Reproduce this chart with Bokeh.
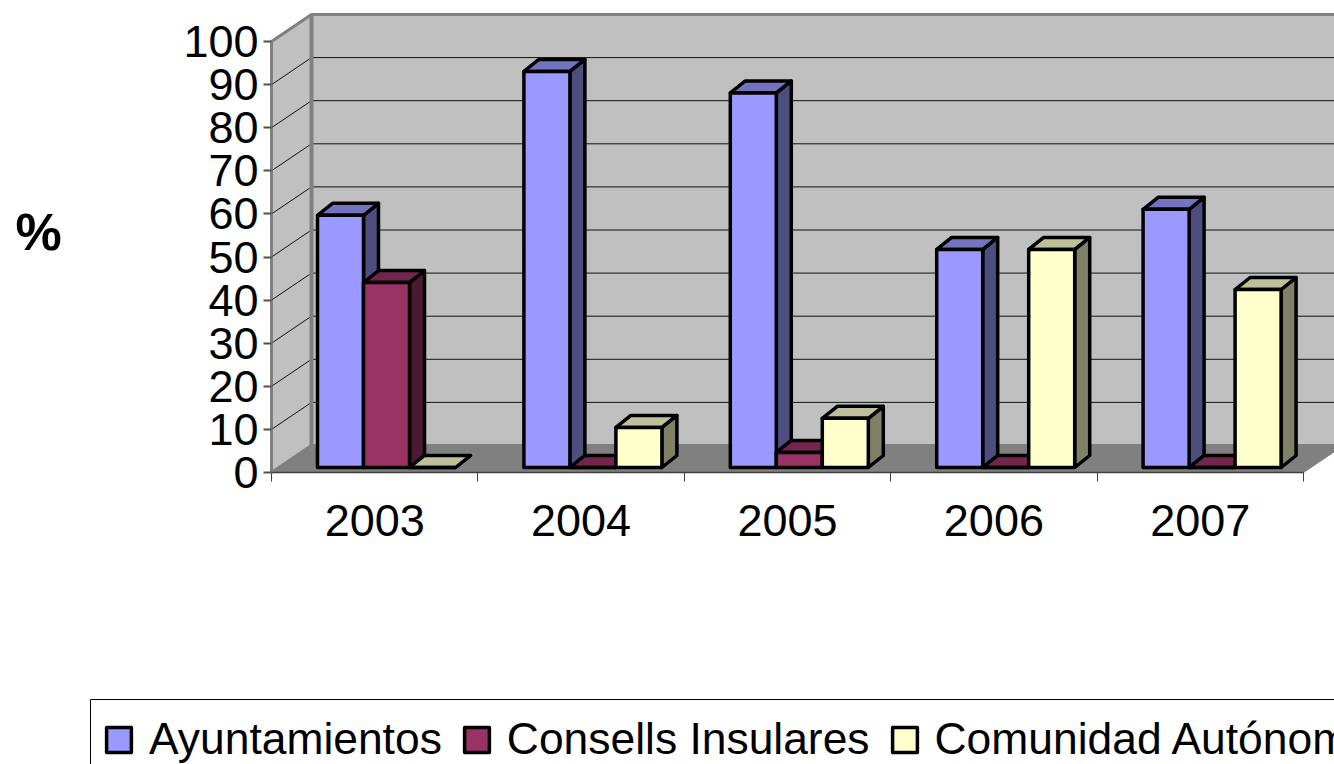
from bokeh.core.properties import value
from bokeh.embed import file_html
from bokeh.resources import INLINE
from bokeh.plotting import figure
from bokeh.models import (ColumnDataSource, FixedTicker, LinearAxis, Range1d,
                          Legend, LegendItem)

# ---- data ----
years = ["2003", "2004", "2005", "2006", "2007"]
ayuntamientos = [58.5, 91.9, 86.9, 50.6, 59.9]
consells = [42.9, 0.0, 3.5, 0.0, 0.0]
comunidad = [0.0, 9.3, 11.4, 50.6, 41.3]
y_ticks = [0, 10, 20, 30, 40, 50, 60, 70, 80, 90, 100]

# ---- style / scale ----
FONT = "Liberation Sans"
PX_X = 206.4       # px per category
PX_Y = 4.31        # px per percent
FIG_W, FIG_H = 1334, 764
LEFT, ZERO_Y = 271, 472   # pixel position of the chart's origin
WALL_DX, WALL_DY = 40 / PX_X, 27 / PX_Y
BAR_DX, BAR_DY = 15 / PX_X, 12 / PX_Y
BAR_W = 46 / PX_X
GROUP_OFFSET = 46 / PX_X
BASE = 5 / PX_Y
X_MIN, X_MAX = -LEFT / PX_X, (FIG_W - LEFT) / PX_X
Y_MIN, Y_MAX = -(FIG_H - ZERO_Y) / PX_Y, ZERO_Y / PX_Y

p = figure(width=FIG_W, height=FIG_H, output_backend="svg", toolbar_location=None,
           x_range=Range1d(X_MIN, X_MAX), y_range=Range1d(Y_MIN, Y_MAX),
           min_border_left=0, min_border_right=0, min_border_top=0, min_border_bottom=0,
           outline_line_color=None, background_fill_color="white", border_fill_color="white")
p.xgrid.visible = False
p.ygrid.visible = False

# ---- walls and floor ----
far = X_MAX + 1
p.patch([WALL_DX, far, far, WALL_DX],
        [WALL_DY, WALL_DY, 100 + WALL_DY, 100 + WALL_DY],
        fill_color="#c0c0c0", line_color="#808080", line_width=3)
p.patch([0, WALL_DX, WALL_DX, 0],
        [0, WALL_DY, 100 + WALL_DY, 100],
        fill_color="#c0c0c0", line_color="#808080", line_width=3)
p.patch([0, WALL_DX, 5 + WALL_DX, 5],
        [0, WALL_DY, WALL_DY, 0],
        fill_color="#808080", line_color="#808080", line_width=1)
grid = [t for t in y_ticks if 0 < t < 100]
p.segment(x0=[WALL_DX] * len(grid), y0=[t + WALL_DY for t in grid],
          x1=[far] * len(grid), y1=[t + WALL_DY for t in grid],
          line_color="#111111", line_width=1)
p.segment(x0=[0] * len(grid), y0=grid,
          x1=[WALL_DX] * len(grid), y1=[t + WALL_DY for t in grid],
          line_color="#111111", line_width=1)
p.line([WALL_DX, WALL_DX], [WALL_DY, 100 + WALL_DY], line_color="#808080", line_width=4)


# ---- 3D bars ----
def series(values, slot, front, top, side, name):
    xs = [i + GROUP_OFFSET + slot * BAR_W for i in range(len(values))]
    tops = [BASE + v for v in values]
    side_x = [[x + BAR_W, x + BAR_W + BAR_DX, x + BAR_W + BAR_DX, x + BAR_W] for x in xs]
    side_y = [[BASE, BASE + BAR_DY, t + BAR_DY, t] for t in tops]
    top_x = [[x, x + BAR_DX, x + BAR_W + BAR_DX, x + BAR_W] for x in xs]
    top_y = [[t, t + BAR_DY, t + BAR_DY, t] for t in tops]
    p.patches(side_x, side_y, fill_color=side, line_color="black", line_width=3.5, line_join="round")
    p.patches(top_x, top_y, fill_color=top, line_color="black", line_width=3.5, line_join="round")
    src = ColumnDataSource(dict(x=[x + BAR_W / 2 for x in xs], top=tops, bottom=[BASE] * len(xs)))
    r = p.vbar(x="x", top="top", bottom="bottom", width=BAR_W, source=src, fill_color=front,
               line_color="black", line_width=3.5, line_join="round")
    return LegendItem(label=name, renderers=[r])


items = [
    series(ayuntamientos, 0, "#9999ff", "#7373bf", "#4d4d80", "Ayuntamientos"),
    series(consells, 1, "#993366", "#73264d", "#4d1a33", "Consells Insulares"),
    series(comunidad, 2, "#ffffcc", "#bfbf99", "#808066", "Comunidad Autónoma"),
]

# ---- axes ----
ya = p.yaxis[0]
ya.fixed_location = 0
ya.ticker = FixedTicker(ticks=y_ticks)
ya.bounds = (0, 100)
ya.axis_line_color = "#808080"
ya.axis_line_width = 2
ya.major_tick_line_color = "#505050"
ya.major_tick_line_width = 2
ya.major_tick_out = 8
ya.major_tick_in = 0
ya.minor_tick_line_color = None
ya.major_label_standoff = 5
ya.major_label_text_font = FONT
ya.major_label_text_font_size = "45px"
ya.major_label_text_color = "black"

xa = p.xaxis[0]
xa.fixed_location = 0
xa.ticker = FixedTicker(ticks=list(range(len(years) + 1)))
xa.bounds = (0, 5)
xa.axis_line_color = "#404040"
xa.axis_line_width = 1.5
xa.major_tick_line_color = "#404040"
xa.major_tick_line_width = 1
xa.major_tick_out = 9
xa.major_tick_in = 0
xa.minor_tick_line_color = None
xa.major_label_text_font_size = "0px"
xa.major_label_text_color = None

centers = [i + 0.5 for i in range(len(years))]
xb = LinearAxis(ticker=FixedTicker(ticks=centers), fixed_location=0,
                major_label_overrides={c: y for c, y in zip(centers, years)})
xb.axis_line_color = None
xb.major_tick_line_color = None
xb.minor_tick_line_color = None
xb.major_tick_out = 0
xb.major_tick_in = 0
xb.major_label_standoff = 32
xb.major_label_text_font = FONT
xb.major_label_text_font_size = "45px"
xb.major_label_text_color = "black"
p.add_layout(xb, "below")

# ---- y title ----
p.text(x=[(38 - LEFT) / PX_X], y=[(ZERO_Y - 231) / PX_Y], text=["%"], text_font=value(FONT),
       text_font_style="bold", text_font_size="52px", text_color="black",
       text_align="center", text_baseline="middle")

# ---- legend ----
p.quad(left=[(90 - LEFT) / PX_X], right=[far], top=[(ZERO_Y - 699) / PX_Y], bottom=[Y_MIN - 5],
       fill_color="white", line_color="black", line_width=1)
leg = Legend(items=items, orientation="horizontal", location=(103, 0),
             border_line_color=None, background_fill_alpha=0,
             padding=15, margin=0, spacing=19,
             glyph_width=31, glyph_height=31, label_standoff=15, label_height=40,
             label_text_font=FONT, label_text_font_size="44.4px", label_text_color="black")
p.add_layout(leg, "center")

open("out.html", "w").write(file_html(p, INLINE))
